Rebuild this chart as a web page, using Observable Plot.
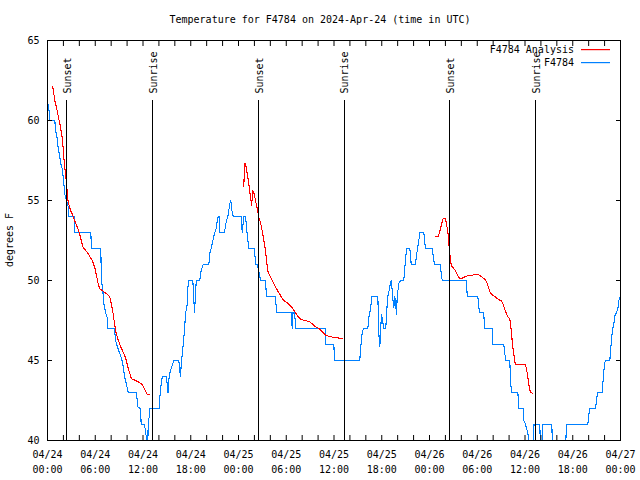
<!DOCTYPE html>
<html><head><meta charset="utf-8">
<script src="https://cdn.jsdelivr.net/npm/d3@7"></script>
<script src="https://cdn.jsdelivr.net/npm/@observablehq/plot@0.6"></script>
<style>
html,body{margin:0;padding:0;background:#fff;}
</style></head><body><div id="chart"></div>
<script>
const chartTitle = "Temperature for F4784 on 2024-Apr-24 (time in UTC)";
const yAxisLabel = "degrees F";
const obsName = "F4784";
const anaName = "F4784 Analysis";
const startTime = "2024-04-24T00:00:00Z";
const endTime = "2024-04-27T00:00:00Z";

// observed F4784: [hours since 04/24 00:00 UTC, degrees F]
const obsSeries = [[0.04,61.1],[0.16,60.8],[0.29,60.0],[0.92,60.0],[1.01,59.4],[1.22,58.9],[1.34,58.3],[1.51,57.8],[1.67,57.3],[1.85,57.0],[1.97,56.5],[2.10,55.8],[2.17,55.4],[2.35,55.1],[2.60,54.6],[2.68,54.0],[3.33,54.0],[3.43,53.0],[5.44,53.0],[5.53,52.0],[6.70,52.0],[6.77,50.0],[6.95,49.4],[7.07,48.6],[7.29,48.0],[7.50,47.7],[7.58,47.0],[8.42,47.0],[8.55,46.25],[8.76,45.9],[8.96,45.6],[9.26,45.2],[9.46,44.8],[9.68,44.0],[9.93,43.5],[10.14,43.0],[11.18,43.0],[11.35,42.1],[11.69,42.0],[11.77,41.0],[12.19,41.0],[12.31,40.6],[12.44,40.1],[12.50,39.5],[12.60,39.5],[12.65,41.0],[12.78,41.5],[12.86,42.0],[14.04,42.0],[14.11,42.7],[14.33,43.75],[14.45,44.0],[14.95,44.0],[15.14,43.0],[15.29,44.0],[15.46,44.4],[15.67,44.7],[15.87,45.0],[16.50,45.0],[16.71,44.0],[16.84,45.0],[17.00,45.7],[17.22,46.9],[17.34,47.9],[17.55,48.5],[17.63,49.5],[17.72,50.0],[18.26,50.0],[18.47,48.0],[18.69,50.0],[19.14,50.0],[19.23,50.4],[19.35,50.7],[19.57,51.0],[20.27,51.0],[20.39,51.7],[20.57,52.0],[20.70,52.3],[20.90,52.75],[21.02,53.0],[21.24,53.3],[21.32,53.75],[21.45,54.0],[21.55,54.0],[21.65,53.0],[22.24,53.0],[22.33,53.3],[22.49,53.75],[22.66,54.0],[22.91,54.8],[23.03,55.0],[23.16,54.4],[23.34,54.0],[24.34,54.0],[24.47,53.0],[24.67,54.0],[24.88,54.0],[25.09,52.9],[25.30,52.0],[26.01,52.0],[26.14,51.0],[26.35,51.0],[26.55,50.6],[26.77,50.0],[27.39,50.0],[27.52,49.0],[28.65,49.0],[28.78,48.0],[30.62,48.0],[30.75,47.0],[30.85,48.0],[31.04,48.0],[31.20,47.0],[34.93,47.0],[34.97,46.0],[35.98,46.0],[36.07,45.0],[39.24,45.0],[39.33,45.7],[39.55,46.8],[39.75,47.0],[40.25,47.0],[40.38,47.7],[40.59,48.2],[40.75,49.0],[41.51,49.0],[41.63,46.7],[41.76,45.9],[41.84,46.7],[41.97,47.9],[42.10,47.5],[42.26,47.0],[42.51,47.0],[42.60,47.9],[42.76,49.0],[42.94,49.4],[43.10,49.9],[43.23,50.0],[43.35,49.0],[43.52,48.3],[43.64,49.0],[43.86,47.9],[43.94,49.0],[44.14,49.8],[44.36,50.0],[44.77,50.0],[44.86,50.6],[44.99,51.25],[45.11,52.0],[45.53,52.0],[45.61,51.6],[45.70,51.0],[46.24,51.0],[46.37,51.6],[46.53,52.1],[46.66,52.5],[46.78,53.0],[47.29,53.0],[47.37,52.5],[47.50,52.0],[48.34,52.0],[48.47,51.5],[48.63,51.0],[49.39,51.0],[49.47,50.4],[49.60,50.0],[52.65,50.0],[52.74,49.0],[54.07,49.0],[54.20,48.3],[54.32,48.0],[54.82,48.0],[54.91,47.0],[55.88,47.0],[55.92,46.0],[57.34,46.0],[57.47,45.4],[57.59,45.0],[58.09,45.0],[58.18,43.75],[58.31,43.0],[59.10,43.0],[59.23,42.0],[59.78,42.0],[59.85,41.25],[60.07,41.0],[60.28,40.6],[60.48,40.1],[60.57,39.5],[61.07,39.5],[61.13,41.0],[61.86,41.0],[61.95,39.5],[62.14,39.5],[62.20,41.0],[63.37,41.0],[63.46,39.5],[65.09,39.5],[65.22,41.0],[67.89,41.0],[68.02,41.6],[68.15,42.0],[68.86,42.0],[69.03,42.7],[69.15,43.0],[69.70,43.0],[69.83,43.85],[69.99,44.8],[70.12,45.0],[70.66,45.0],[70.75,45.6],[70.96,46.8],[71.16,47.3],[71.29,47.8],[71.50,48.0],[71.66,48.2],[71.79,48.75],[72.00,49.06]];

// analysis, night 1 / night 2 / night 3
const anaNight1 = [[0.67,62.1],[0.92,61.25],[1.22,60.6],[1.42,60.1],[1.63,59.6],[1.85,58.9],[1.97,58.3],[2.05,57.7],[2.17,57.1],[2.35,56.25],[2.48,55.5],[2.60,54.9],[2.89,54.4],[3.18,54.06],[3.52,53.6],[3.86,53.2],[4.15,52.7],[4.44,52.1],[4.78,51.9],[5.19,51.6],[5.62,51.25],[5.94,50.8],[6.12,50.4],[6.32,49.9],[6.53,49.5],[7.07,49.3],[7.50,49.15],[7.83,48.96],[8.04,48.5],[8.26,47.9],[8.42,47.3],[8.58,46.8],[8.83,46.35],[9.17,45.9],[9.51,45.5],[9.80,45.2],[10.09,44.6],[10.34,44.2],[10.56,43.85],[11.06,43.75],[11.47,43.65],[11.90,43.5],[12.19,43.2],[12.53,42.9],[12.86,42.85]];
const anaNight2 = [[24.67,55.9],[24.76,57.3],[24.88,57.3],[25.09,56.7],[25.30,56.04],[25.51,55.2],[25.64,54.7],[25.80,55.6],[25.92,55.5],[26.14,55.0],[26.35,54.5],[26.55,53.96],[26.77,53.6],[26.98,53.1],[27.18,52.5],[27.39,51.9],[27.52,51.25],[27.68,50.6],[27.94,50.3],[28.24,50.0],[28.53,49.7],[28.87,49.4],[29.28,49.06],[29.69,48.75],[30.12,48.6],[30.54,48.4],[30.75,48.3],[31.16,48.0],[31.45,47.75],[31.79,47.6],[32.21,47.5],[32.84,47.45],[33.26,47.3],[33.68,47.1],[34.09,47.0],[34.52,46.8],[34.93,46.6],[35.35,46.5],[35.98,46.45],[36.61,46.4],[37.03,46.4]];
const anaNight3 = [[48.76,52.75],[49.10,52.75],[49.30,53.1],[49.51,53.5],[49.73,53.9],[50.01,53.9],[50.14,53.5],[50.30,53.1],[50.43,52.3],[50.55,51.7],[50.73,50.94],[50.98,50.8],[51.27,50.6],[51.48,50.4],[51.68,50.2],[51.90,50.1],[52.31,50.2],[52.82,50.3],[53.37,50.33],[53.79,50.4],[54.20,50.35],[54.62,50.2],[55.04,50.06],[55.25,49.8],[55.45,49.5],[55.67,49.2],[56.01,49.06],[56.30,48.96],[56.71,48.8],[57.01,48.75],[57.26,48.5],[57.46,48.2],[57.68,47.9],[57.89,47.7],[58.09,47.6],[58.22,47.1],[58.35,46.45],[58.47,45.8],[58.60,45.4],[58.68,45.0],[58.81,44.73],[60.07,44.73],[60.28,44.2],[60.48,43.5],[60.69,43.0],[60.96,42.96]];

const eventLabels = ["Sunset","Sunrise","Sunset","Sunrise","Sunset","Sunrise"];
const eventHours = [2.42,13.23,26.55,37.26,50.55,61.38];

const yTicks = [40,45,50,55,60,65];
const xLabelHours = [0,6,12,18,24,30,36,42,48,54,60,66,72];
const xMinorHours = [0,2,4,6,8,10,12,14,16,18,20,22,24,26,28,30,32,34,36,38,40,42,44,46,48,50,52,54,56,58,60,62,64,66,68,70,72];

const t0 = new Date(startTime).getTime();
const toDate = h => new Date(t0 + h * 3600e3);
const obs = obsSeries.map(([h, v]) => ({t: toDate(h), v}));
const ana = [anaNight1, anaNight2, anaNight3].flatMap((s, i) => s.map(([h, v]) => ({t: toDate(h), v, seg: i})));
const events = eventHours.map((h, i) => ({t: toDate(h), label: eventLabels[i]}));
const fmt = d3.utcFormat("%m/%d\n%H:%M");

const FONT = "'DejaVu Sans Mono', monospace";
const BLUE = "#0080ff", RED = "#ff0000";

const svg = Plot.plot({
  width: 640, height: 480,
  marginLeft: 47, marginRight: 20, marginTop: 40, marginBottom: 40,
  style: {fontFamily: FONT, fontSize: "10px", background: "#fff", color: "#000"},
  x: {type: "utc", domain: [new Date(startTime), new Date(endTime)]},
  y: {domain: [40, 65]},
  marks: [
    Plot.lineY(obs, {x: "t", y: "v", stroke: BLUE, strokeWidth: 1.1, clip: true, shapeRendering: "crispEdges"}),
    Plot.lineY(ana, {x: "t", y: "v", z: "seg", stroke: RED, strokeWidth: 1.1, clip: true, shapeRendering: "crispEdges"}),
    Plot.ruleX(events, {x: "t", stroke: "#000", strokeWidth: 1, insetTop: 60, shapeRendering: "crispEdges"}),
    Plot.text(events, {x: "t", text: "label", frameAnchor: "top", dy: 53, dx: 1, rotate: -90, textAnchor: "start", lineAnchor: "middle", fill: "#000"}),
    Plot.axisX({anchor: "bottom", ticks: xMinorHours.map(toDate), tickSize: -5, tickFormat: () => "", label: null}),
    Plot.axisX({anchor: "top", ticks: xMinorHours.map(toDate), tickSize: -5, tickFormat: () => "", label: null}),
    Plot.axisX({anchor: "bottom", ticks: xLabelHours.map(toDate), tickSize: 0, tickPadding: 7, tickFormat: fmt, lineHeight: 1.5, label: null}),
    Plot.axisY({anchor: "left", ticks: yTicks, tickSize: -5, tickPadding: 13, label: null}),
    Plot.axisY({anchor: "right", ticks: yTicks, tickSize: -5, tickFormat: () => "", label: null}),
    Plot.frame({stroke: "#000", strokeWidth: 1, shapeRendering: "crispEdges"})
  ]
});

const s = d3.select(svg);
s.append("text").attr("x", 320).attr("y", 23).attr("text-anchor", "middle")
  .style("font-family", FONT).style("font-size", "10px").style("fill", "#000").text(chartTitle);
s.append("text").attr("transform", "translate(13,240) rotate(-90)").attr("text-anchor", "middle")
  .style("font-family", FONT).style("font-size", "10px").style("fill", "#000").text(yAxisLabel);
const right = 640 - 20;
const leg = s.append("g").style("font-family", FONT).style("font-size", "10px");
[[anaName, RED, 49], [obsName, BLUE, 62]].forEach(([name, col, y]) => {
  leg.append("rect").attr("x", right - 39).attr("y", y).attr("width", 29).attr("height", 1.2)
    .attr("fill", col).style("fill", col);
  leg.append("text").attr("x", right - 46).attr("y", y + 0.5).attr("dy", "0.35em").attr("text-anchor", "end").style("fill", "#000").text(name);
});
document.getElementById("chart").appendChild(svg);
</script></body></html>
